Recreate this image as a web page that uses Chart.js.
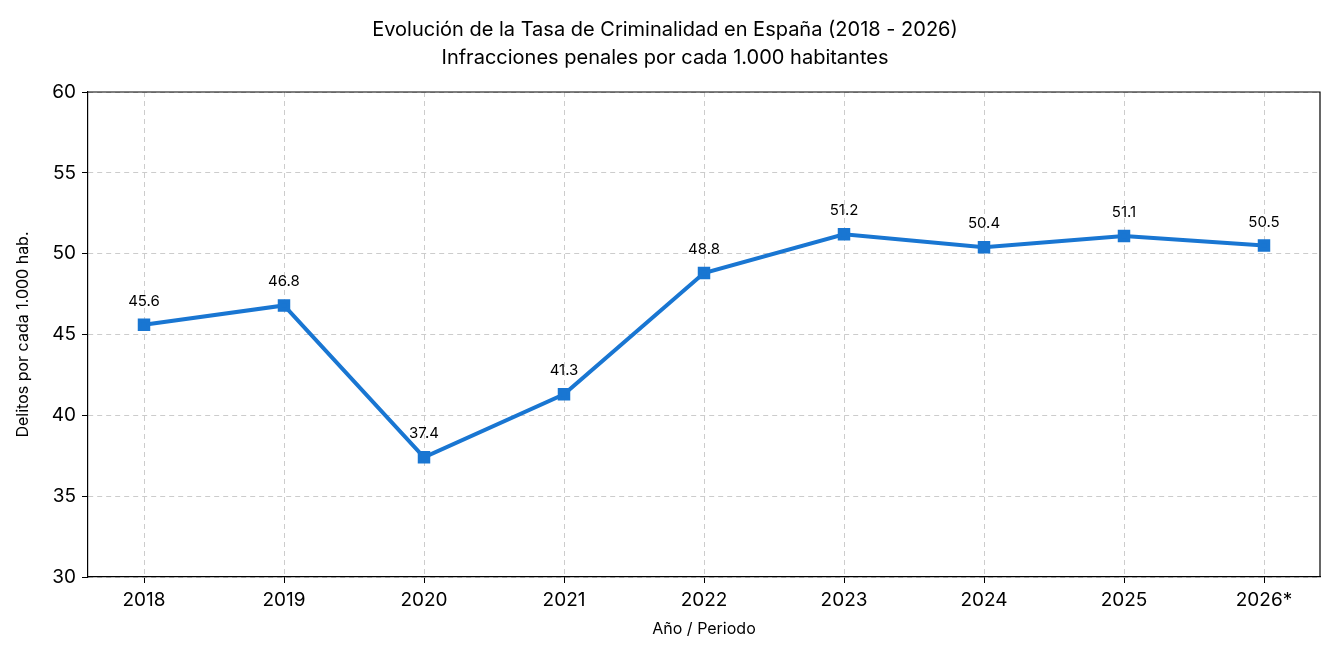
<!DOCTYPE html>
<html>
<head>
<meta charset="utf-8">
<script src="https://cdn.jsdelivr.net/npm/chart.js@4/dist/chart.umd.min.js"></script>
<style>
  html, body { margin: 0; padding: 0; background: #fff; }
  #wrap { width: 1335px; height: 657px; }
</style>
</head>
<body>
<div id="wrap"><canvas id="myChart"></canvas></div>
<script>
// data
const years = ['2018', '2019', '2020', '2021', '2022', '2023', '2024', '2025', '2026*'];
const rates = [45.6, 46.8, 37.4, 41.3, 48.8, 51.2, 50.4, 51.1, 50.5];
const yTicks = [30, 35, 40, 45, 50, 55, 60];

const font = 'Inter, "Open Sans", sans-serif';

// value labels above each point
const pointLabels = {
  id: 'pointLabels',
  afterDatasetsDraw(chart) {
    const ctx = chart.ctx;
    const meta = chart.getDatasetMeta(0);
    ctx.save();
    ctx.font = '15px ' + font;
    ctx.fillStyle = '#000';
    ctx.textAlign = 'center';
    ctx.textBaseline = 'bottom';
    meta.data.forEach(function(pt, i) {
      ctx.fillText(rates[i].toFixed(1), pt.x, pt.y - 16);
    });
    ctx.restore();
  }
};

// top and right frame lines
const frame = {
  id: 'frame',
  afterDraw(c) {
    const a = c.chartArea, g = c.ctx;
    g.save();
    g.strokeStyle = '#000';
    g.lineWidth = 1.2;
    g.beginPath();
    g.moveTo(a.left, a.top); g.lineTo(a.right, a.top); g.lineTo(a.right, a.bottom);
    g.stroke();
    g.restore();
  }
};

const ctx = document.getElementById('myChart').getContext('2d');
const chart = new Chart(ctx, {
  type: 'line',
  data: {
    datasets: [{
      data: rates.map(function(v, i) { return { x: i, y: v }; }),
      borderColor: '#1976D2',
      backgroundColor: '#1976D2',
      borderWidth: 4,
      pointStyle: 'rect',
      pointRadius: 6,
      pointHoverRadius: 6,
      tension: 0
    }]
  },
  options: {
    responsive: true,
    maintainAspectRatio: false,
    animation: false,
    layout: { padding: { left: 10, right: 15, top: 12, bottom: 14 } },
    plugins: {
      legend: { display: false },
      tooltip: { enabled: false },
      title: {
        display: true,
        text: ['Evolución de la Tasa de Criminalidad en España (2018 - 2026)', 'Infracciones penales por cada 1.000 habitantes'],
        color: '#000',
        font: { family: font, size: 20, weight: 'normal', lineHeight: 1.4 },
        padding: { top: 4, bottom: 20 }
      }
    },
    scales: {
      x: {
        type: 'linear',
        min: -0.4,
        max: 8.4,
        afterBuildTicks: function(axis) {
          axis.ticks = years.map(function(y, i) { return { value: i }; });
        },
        ticks: {
          color: '#000',
          font: { family: font, size: 19 },
          padding: 6,
          callback: function(v) { return years[v]; }
        },
        grid: { color: '#cccccc', tickColor: '#000', tickLength: 6 },
        border: { color: '#000', width: 1.2, dash: [5, 4] },
        title: { display: true, text: 'Año / Periodo', color: '#000', font: { family: font, size: 16 }, padding: { top: 2 } }
      },
      y: {
        min: 30,
        max: 60,
        afterBuildTicks: function(axis) {
          axis.ticks = yTicks.map(function(v) { return { value: v }; });
        },
        afterFit: function(axis) { axis.width = 78; },
        ticks: { color: '#000', font: { family: font, size: 19 }, padding: 6 },
        grid: { color: '#cccccc', tickColor: '#000', tickLength: 6 },
        border: { color: '#000', width: 1.2, dash: [5, 4] },
        title: { display: true, text: 'Delitos por cada 1.000 hab.', color: '#000', font: { family: font, size: 16 }, padding: { bottom: 4 } }
      }
    }
  },
  plugins: [pointLabels, frame]
});
</script>
</body>
</html>
